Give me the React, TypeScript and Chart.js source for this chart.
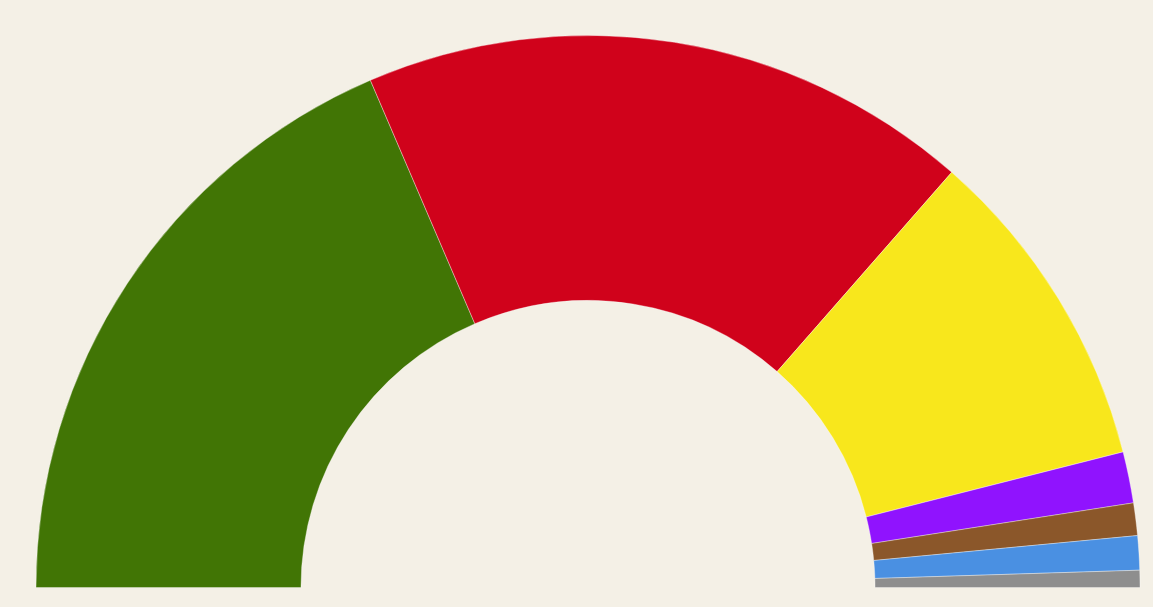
import React, { useEffect, useRef } from "react";
import { Chart, registerables } from "chart.js";

Chart.register(...registerables);

const parties = ["Green", "Red", "Yellow", "Purple", "Brown", "Blue", "Other"];
const shares = [37.1, 35.8, 19.2, 3.0, 1.9, 2.0, 1.0];
const colors = ["#417505", "#D0021B", "#F8E71C", "#9013FE", "#8B572A", "#4A90E2", "#8E8E8E"];
const BG = "#F4F0E6";

export default function App() {
  const ref = useRef<HTMLCanvasElement | null>(null);
  useEffect(() => {
    document.body.style.margin = "0";
    document.body.style.background = BG;
    if (!ref.current) return;
    const chart = new Chart(ref.current, {
      type: "doughnut",
      data: {
        labels: parties,
        datasets: [
          {
            data: shares,
            backgroundColor: colors,
            borderColor: "rgba(255,255,255,0.35)",
            borderWidth: 1,
          },
        ],
      },
      options: {
        animation: false,
        responsive: false,
        rotation: -90,
        circumference: 180,
        cutout: "52%",
        layout: { padding: { left: 35, right: 12, top: 35, bottom: 19 } },
        plugins: { legend: { display: false }, tooltip: { enabled: false } },
      },
    });
    return () => chart.destroy();
  }, []);
  return (
    <div style={{ width: 1153, height: 607, background: BG }}>
      <canvas ref={ref} width={1153} height={607} style={{ display: "block" }} />
    </div>
  );
}
